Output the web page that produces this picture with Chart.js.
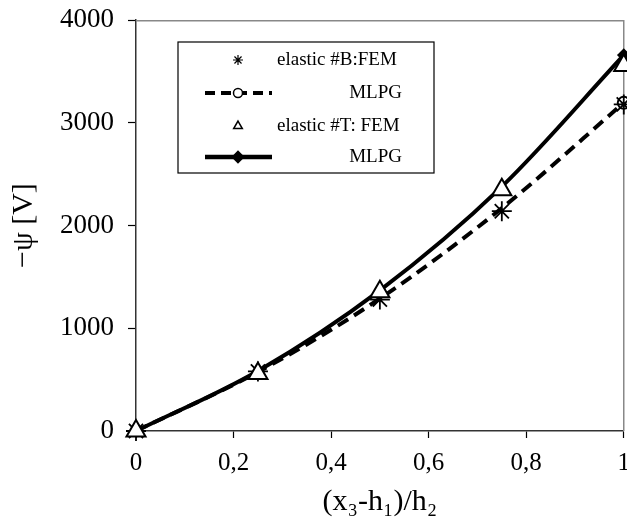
<!DOCTYPE html>
<html>
<head>
<meta charset="utf-8">
<script src="https://cdn.jsdelivr.net/npm/chart.js@4/dist/chart.umd.min.js"></script>
<style>
  html, body { margin: 0; padding: 0; background: #fff; overflow: hidden; }
  #wrap { width: 640px; height: 537px; margin-top: -10px; }
</style>
</head>
<body>
<div id="wrap"><canvas id="psiChart" width="640" height="537"></canvas></div>
<script>
// x positions (x3-h1)/h2
const xValues = [0, 0.25, 0.5, 0.75, 1];
// elastic #B
const femB = [0, 580, 1280, 2140, 3180];
const mlpgB = [0, 575, 1290, 2170, 3195];
// elastic #T
const femT = [0, 560, 1355, 2350, 3560];
const mlpgT = [0, 585, 1370, 2380, 3660];

const yTicks = [0, 1000, 2000, 3000, 4000];
const xTicks = [0, 0.2, 0.4, 0.6, 0.8, 1];

const serif = "'Liberation Serif', 'Times New Roman', serif";

const toPts = (ys) => xValues.map((x, i) => ({ x: x, y: ys[i] }));
const lastOnly = (r) => (c) => (c.dataIndex === xValues.length - 1 ? r : 0);

// gray frame on top/right of plot area
const framePlugin = {
  id: "frame",
  beforeDatasetsDraw(chart) {
    const { ctx, chartArea: a } = chart;
    ctx.save();
    ctx.strokeStyle = "#888";
    ctx.lineWidth = 1.5;
    ctx.beginPath();
    ctx.moveTo(a.left, a.top + 0.5);
    ctx.lineTo(a.right, a.top + 0.5);
    ctx.lineTo(a.right, a.bottom);
    ctx.stroke();
    ctx.restore();
  },
};

// boxed legend like the original figure (canvas is shifted up 10px)
const legendBox = {
  id: "legendBox",
  afterDraw(chart) {
    const ctx = chart.ctx;
    const bx = 178, by = 52, bw = 256, bh = 131;
    ctx.save();
    ctx.fillStyle = "#fff";
    ctx.fillRect(bx, by, bw, bh);
    ctx.strokeStyle = "#000";
    ctx.lineWidth = 1.2;
    ctx.strokeRect(bx, by, bw, bh);

    const symX = 238;
    const rows = [70, 103, 136, 167];
    ctx.font = "19px " + serif;
    ctx.fillStyle = "#000";
    ctx.textBaseline = "middle";

    // row 1: asterisk
    Chart.helpers.drawPoint(ctx, { pointStyle: "star", radius: 5, borderWidth: 1 }, symX, rows[0]);
    ctx.textAlign = "left";
    ctx.fillText("elastic #B:FEM", 277, rows[0]);

    // row 2: dashed line with circle
    ctx.strokeStyle = "#000";
    ctx.lineWidth = 4;
    ctx.setLineDash([10, 6]);
    ctx.beginPath();
    ctx.moveTo(205, rows[1]);
    ctx.lineTo(272, rows[1]);
    ctx.stroke();
    ctx.setLineDash([]);
    ctx.fillStyle = "#fff";
    ctx.lineWidth = 1.5;
    ctx.beginPath();
    ctx.arc(symX, rows[1], 4.5, 0, Math.PI * 2);
    ctx.fill();
    ctx.stroke();
    ctx.fillStyle = "#000";
    ctx.textAlign = "right";
    ctx.fillText("MLPG", 402, rows[1]);

    // row 3: triangle
    ctx.fillStyle = "#fff";
    ctx.strokeStyle = "#000";
    Chart.helpers.drawPoint(ctx, { pointStyle: "triangle", radius: 5, borderWidth: 1.2 }, symX, rows[2]);
    ctx.fillStyle = "#000";
    ctx.textAlign = "left";
    ctx.fillText("elastic #T: FEM", 277, rows[2]);

    // row 4: solid line with diamond
    ctx.lineWidth = 4.5;
    ctx.beginPath();
    ctx.moveTo(205, rows[3]);
    ctx.lineTo(272, rows[3]);
    ctx.stroke();
    ctx.fillStyle = "#000";
    Chart.helpers.drawPoint(ctx, { pointStyle: "rectRot", radius: 3.5, borderWidth: 1 }, symX, rows[3]);
    ctx.textAlign = "right";
    ctx.fillText("MLPG", 402, rows[3]);
    ctx.restore();
  },
};

new Chart(document.getElementById("psiChart"), {
  type: "line",
  data: {
    datasets: [
      {
        label: "elastic #T: FEM",
        data: toPts(femT),
        showLine: false,
        pointStyle: "triangle",
        pointRadius: 11,
        pointBorderWidth: 2,
        pointBorderColor: "#000",
        pointBackgroundColor: "#fff",
        clip: false,
        order: 0,
      },
      {
        label: "elastic #B:FEM",
        data: toPts(femB),
        showLine: false,
        pointStyle: "star",
        pointRadius: 10,
        pointBorderWidth: 1.8,
        pointBorderColor: "#000",
        clip: false,
        order: 1,
      },
      {
        label: "MLPG",
        data: toPts(mlpgT),
        borderColor: "#000",
        borderWidth: 4,
        cubicInterpolationMode: "monotone",
        pointStyle: "rectRot",
        pointRadius: lastOnly(4),
        pointBackgroundColor: "#000",
        pointBorderColor: "#000",
        clip: false,
        order: 2,
      },
      {
        label: "MLPG",
        data: toPts(mlpgB),
        borderColor: "#000",
        borderWidth: 4,
        borderDash: [12, 7],
        cubicInterpolationMode: "monotone",
        pointStyle: "circle",
        pointRadius: lastOnly(6),
        pointBorderWidth: 2,
        pointBackgroundColor: "#fff",
        pointBorderColor: "#000",
        clip: false,
        order: 3,
      },
    ],
  },
  options: {
    responsive: false,
    animation: false,
    layout: { padding: { top: 0, right: 9, left: 6, bottom: 7 } },
    plugins: { legend: { display: false }, tooltip: { enabled: false } },
    scales: {
      x: {
        type: "linear",
        min: 0,
        max: 1,
        afterBuildTicks: (axis) => { axis.ticks = xTicks.map((v) => ({ value: v })); },
        grid: { drawOnChartArea: false, tickLength: 7, color: "#000", tickWidth: 1.2 },
        border: { color: "#333", width: 1.5 },
        ticks: {
          color: "#000",
          padding: 10,
          font: { family: serif, size: 25 },
          callback: (v) => String(v).replace(".", ","),
        },
        title: {
          display: true,
          text: "(x₃-h₁)/h₂",
          color: "#000",
          font: { family: serif, size: 30 },
          padding: { top: -4, bottom: 0 },
        },
      },
      y: {
        min: 0,
        max: 4000,
        afterBuildTicks: (axis) => { axis.ticks = yTicks.map((v) => ({ value: v })); },
        grid: { drawOnChartArea: false, tickLength: 8, color: "#000", tickWidth: 1.2 },
        border: { color: "#333", width: 1.5 },
        ticks: {
          color: "#000",
          padding: 14,
          font: { family: serif, size: 27 },
          callback: (v) => String(v),
        },
        title: {
          display: true,
          text: "−ψ [V]",
          color: "#000",
          font: { family: serif, size: 30 },
          padding: { top: 0, bottom: 4 },
        },
      },
    },
  },
  plugins: [framePlugin, legendBox],
});
</script>
</body>
</html>
